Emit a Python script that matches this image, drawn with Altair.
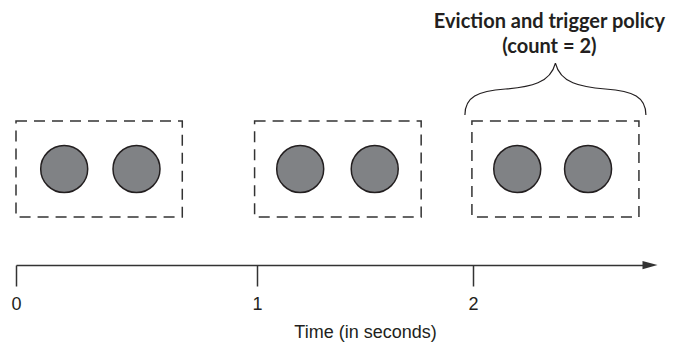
import altair as alt
import pandas as pd

# ---- data -------------------------------------------------------------
tick_values = [0, 1, 2]          # seconds shown on the time axis
axis_end = 2.8                   # where the time arrow ends (seconds)

window_start = [0.0, 0.99, 1.995]   # dashed windows (seconds)
window_end = [0.69, 1.76, 2.75]
window_bottom = 48                  # vertical extent (diagram units)
window_top = 144

event_times = [0.2, 0.5, 1.2, 1.545, 2.2, 2.52]   # events (seconds)
event_level = 96

title_lines = ["Eviction and trigger policy", "(count = 2)"]
title_levels = [243, 218]
brace_level = 176

# ---- tables -----------------------------------------------------------
windows = pd.DataFrame({"start": window_start, "end": window_end,
                        "bottom": [window_bottom] * 3, "top": [window_top] * 3})
events = pd.DataFrame({"t": event_times, "lvl": [event_level] * len(event_times)})
brace_x = (window_start[2] + window_end[2]) / 2
titles = pd.DataFrame({"t": [brace_x] * 2, "lvl": title_levels, "txt": title_lines})
brace = pd.DataFrame({"t": [brace_x], "lvl": [brace_level]})
arrow = pd.DataFrame({"t": [axis_end], "lvl": [0]})

INK = "#231f20"

x_scale = alt.Scale(domain=[0, 1, 2, axis_end], range=[0, 241, 457, 634],
                    nice=False, zero=False)
y_scale = alt.Scale(domain=[0, 257], nice=False, zero=False)

x_axis = alt.Axis(values=tick_values, format="d", grid=False,
                  tickSize=21, tickWidth=1.5, tickColor="#333333",
                  domainColor="#333333", domainWidth=1.5,
                  labelFont="Liberation Sans", labelFontSize=18, labelColor=INK,
                  labelPadding=9, labelFlush=False,
                  title="Time (in seconds)", titleFont="Liberation Sans",
                  titleFontSize=18, titleFontWeight="normal", titleColor=INK,
                  titleX=349, titleY=72, titleAlign="center",
                  titleBaseline="alphabetic")

X = lambda f: alt.X(f, type="quantitative", scale=x_scale, axis=x_axis)
Y = lambda f: alt.Y(f, type="quantitative", scale=y_scale, axis=None)

rects = alt.Chart(windows).mark_rect(
    fillOpacity=0, stroke="#333333", strokeWidth=1.5, strokeDash=[11, 7]
).encode(x=X("start"), x2="end", y=Y("bottom"), y2="top")

dots = alt.Chart(events).mark_circle(
    size=2209, color="#808285", opacity=1, stroke=INK, strokeWidth=1.5
).encode(x=X("t"), y=Y("lvl"))

brace_path = ("M -1 0.287 C -1 0.088 -0.862 0.022 -0.552 0 "
              "C -0.276 -0.022 -0.055 -0.066 0 -0.287 "
              "C 0.055 -0.066 0.276 -0.022 0.552 0 "
              "C 0.862 0.022 1 0.088 1 0.287")
brace_mark = alt.Chart(brace).mark_point(
    shape=brace_path, size=32761, filled=False, stroke=INK,
    strokeWidth=1.2, opacity=1
).encode(x=X("t"), y=Y("lvl"))

arrow_mark = alt.Chart(arrow).mark_point(
    shape="M -1 -0.55 L 1 0 L -1 0.55 Z", size=225, filled=True,
    color="#333333", opacity=1
).encode(x=X("t"), y=Y("lvl"))

title_mark = alt.Chart(titles).mark_text(
    font="Lato", fontWeight="bold", fontSize=20, color=INK,
    align="center", baseline="middle", dx=-6
).encode(x=X("t"), y=Y("lvl"), text="txt:N")

chart = alt.layer(rects, dots, brace_mark, arrow_mark, title_mark).properties(
    width=634, height=257,
    autosize=alt.AutoSizeParams(type="none"),
    padding={"left": 8, "right": 24, "top": 0, "bottom": 78},
).configure_view(stroke=None)

chart.save("out.html", embed_options={"renderer": "svg", "actions": False})
